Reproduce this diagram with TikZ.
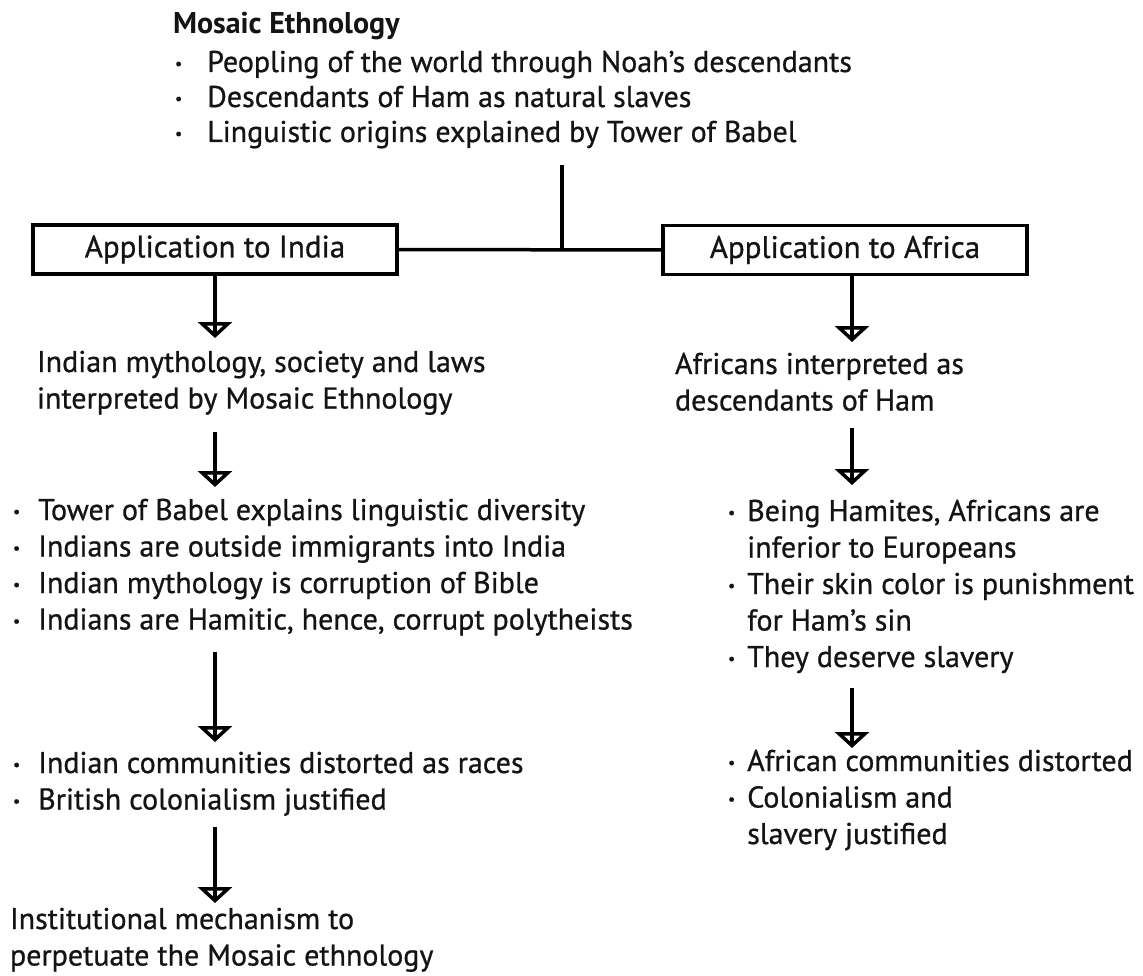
\documentclass[tikz,border=0pt]{standalone}
\usepackage{fontspec}
\setmainfont{PT Sans}
\newfontfamily\bodyfont{PT Sans}[FakeBold=0.8]
\usetikzlibrary{arrows.meta}
% small list bullet, raised to the middle of the x-height
\newcommand\bul{\raisebox{3pt}{\fontsize{16}{16}\selectfont •}}
\begin{document}
\begin{tikzpicture}[x=1pt,y=-1pt,
  every node/.style={inner sep=0pt, outer sep=0pt, text=black!92},
  txt/.style={anchor=base west, font=\bodyfont\fontsize{30}{36.5}\selectfont},
  headbox/.style={draw, line width=3.5pt, minimum width=364pt, minimum height=49pt,
                  font=\bodyfont\fontsize{31}{36}\selectfont},
  link/.style={line width=3.5pt},
  flow/.style={line width=3.5pt, -{Triangle[open, length=16pt, width=34pt]}},
  shaft/.style={line width=3.5pt, shorten >=4pt},
]
\useasboundingbox (0,0) rectangle (1143,976);

% heading and its list
\node[txt, font=\bfseries\fontsize{30}{36}\selectfont] (title) at (173,34) {Mosaic Ethnology};
\node[txt, font=\bodyfont\fontsize{30}{35}\selectfont] (toplist) at (175,72)
  {\begin{tabular}[t]{@{}l@{\hspace{25pt}}l@{}}
   \bul & Peopling of the world through Noah’s descendants\\
   \bul & Descendants of Ham as natural slaves\\
   \bul & Linguistic origins explained by Tower of Babel
   \end{tabular}};

% the two applications
\node[headbox] (boxI) at (215,249.5) {Application to India};
\node[headbox] (boxA) at (845,250) {Application to Africa};
\coordinate (trunk) at (562,165);
\draw[link] (boxI.east) -- (boxA.west);
\draw[link] (trunk) -- (trunk |- boxI.east);

% India column
\node[txt] (i1) at (37,372)
  {\begin{tabular}[t]{@{}l@{}}Indian mythology, society and laws\\
   interpreted by Mosaic Ethnology\end{tabular}};
\node[txt] (i2) at (13,520)
  {\begin{tabular}[t]{@{}l@{\hspace{18pt}}l@{}}
   \bul & Tower of Babel explains linguistic diversity\\
   \bul & Indians are outside immigrants into India\\
   \bul & Indian mythology is corruption of Bible\\
   \bul & Indians are Hamitic, hence, corrupt polytheists
   \end{tabular}};
\node[txt] (i3) at (13,773)
  {\begin{tabular}[t]{@{}l@{\hspace{18pt}}l@{}}
   \bul & Indian communities distorted as races\\
   \bul & British colonialism justified
   \end{tabular}};
\node[txt] (i4) at (10,929)
  {\begin{tabular}[t]{@{}l@{}}Institutional mechanism to\\
   perpetuate the Mosaic ethnology\end{tabular}};

% Africa column
\node[txt] (a1) at (675,374)
  {\begin{tabular}[t]{@{}l@{}}Africans interpreted as\\
   descendants of Ham\end{tabular}};
\node[txt] (a2) at (728,521)
  {\begin{tabular}[t]{@{}l@{\hspace{12pt}}l@{}}
   \bul & Being Hamites, Africans are\\
        & inferior to Europeans\\
   \bul & Their skin color is punishment\\
        & for Ham’s sin\\
   \bul & They deserve slavery
   \end{tabular}};
\node[txt] (a3) at (728,771)
  {\begin{tabular}[t]{@{}l@{\hspace{12pt}}l@{}}
   \bul & African communities distorted\\
   \bul & Colonialism and\\
        & slavery justified
   \end{tabular}};

% arrow ends
\coordinate (tI1) at (215,338);
\coordinate (sI2) at (215,432);  \coordinate (tI2) at (215,487);
\coordinate (sI3) at (215,652);  \coordinate (tI3) at (215,742);
\coordinate (sI4) at (215,827);  \coordinate (tI4) at (215,903);
\coordinate (tA1) at (852,342);
\coordinate (sA2) at (852,428);  \coordinate (tA2) at (852,485);
\coordinate (sA3) at (852,688);  \coordinate (tA3) at (852,748);

% arrows: open triangular heads with the shaft running through them
\foreach \s/\t in {boxI.south/tI1, sI2/tI2, sI3/tI3, sI4/tI4, sA2/tA2, sA3/tA3}{
  \draw[shaft] (\s) -- (\t);
  \draw[flow] (\s) -- (\t);
}
\draw[shaft] (boxA.south -| tA1) -- (tA1);
\draw[flow] (boxA.south -| tA1) -- (tA1);
\end{tikzpicture}
\end{document}
